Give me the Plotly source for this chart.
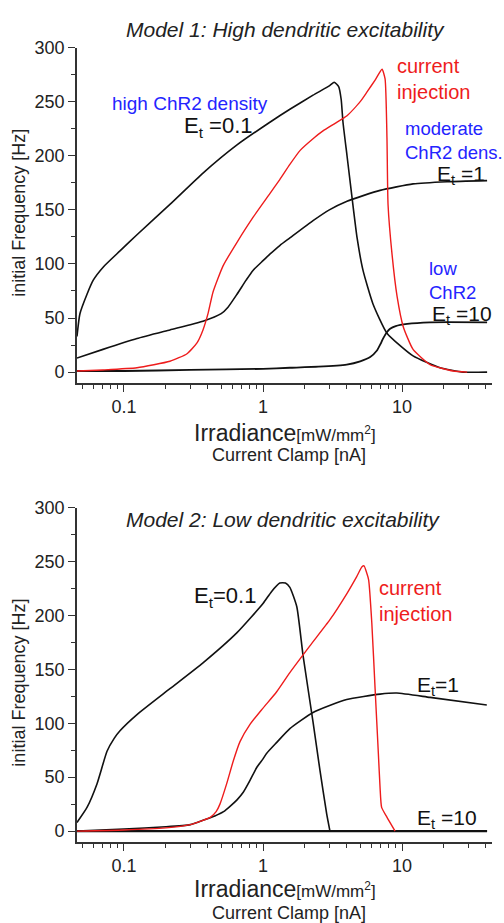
import plotly.graph_objects as go

# ---------------- data ----------------
# Model 1: High dendritic excitability
m1_et01_x = [0.0459, 0.0482, 0.0542, 0.0601, 0.0708, 0.0936, 0.124, 0.214, 0.370, 0.650, 1.12, 1.56, 2.29, 3.03, 3.25, 3.50, 3.65, 3.76, 4.02, 4.37, 4.75, 5.24, 6.18, 7.79, 12.0, 18.8, 27.5, 40.9]
m1_et01_y = [33, 54, 72, 85, 97, 112, 127, 155, 184, 210, 231, 243, 256, 265, 268, 264, 252, 231, 200, 161, 124, 94, 63, 36, 15, 4, 0, 0]

m1_cur_x = [0.0459, 0.0706, 0.124, 0.214, 0.284, 0.335, 0.370, 0.402, 0.437, 0.515, 0.650, 0.847, 1.12, 1.32, 1.56, 1.85, 2.30, 2.70, 3.30, 4.02, 5.00, 5.60, 6.40, 7.18, 7.55, 7.79, 7.93, 8.47, 9.21, 10.2, 12.0, 15.9, 23.3, 29.4]
m1_cur_y = [1, 2, 4, 10, 17, 27, 39, 54, 74, 98, 120, 143, 165, 178, 192, 205, 216, 223, 230, 237, 250, 259, 270, 280, 271, 216, 155, 109, 70, 42, 21, 7, 1, 0]

m1_et1_x = [0.0459, 0.0706, 0.124, 0.214, 0.370, 0.500, 0.560, 0.650, 0.756, 0.847, 1.00, 1.12, 1.32, 1.56, 2.29, 3.00, 4.02, 6.95, 12.0, 21.1, 40.9]
m1_et1_y = [13, 21, 31, 39, 47, 54, 60, 72, 85, 94, 103, 109, 117, 124, 140, 150, 158, 168, 174, 176, 177]

m1_et10_x = [0.0459, 0.10, 0.30, 1.0, 1.56, 2.5, 4.0, 5.0, 5.9, 6.6, 7.0, 7.3, 7.8, 8.2, 9.0, 10.9, 15.9, 40.9]
m1_et10_y = [1, 1, 2, 3, 4, 5, 7, 10, 14, 20, 26, 31, 37, 40, 42.5, 44.5, 46, 46]

# Model 2: Low dendritic excitability
m2_et01_x = [0.0459, 0.0542, 0.064, 0.0755, 0.0850, 0.0936, 0.124, 0.214, 0.370, 0.650, 1.00, 1.15, 1.32, 1.45, 1.56, 1.75, 1.94, 2.29, 2.57, 2.87, 3.03]
m2_et01_y = [8, 22, 44, 74, 86, 93, 108, 132, 156, 184, 211, 222, 230, 230, 226, 208, 163, 101, 56, 16, 0]

m2_cur_x = [0.0459, 0.10, 0.20, 0.30, 0.370, 0.420, 0.460, 0.490, 0.548, 0.611, 0.683, 0.806, 1.00, 1.25, 1.56, 2.18, 3.03, 4.00, 4.72, 5.15, 5.33, 5.55, 5.75, 6.06, 6.40, 6.76, 6.95, 7.13, 7.78, 8.91]
m2_cur_y = [0, 1, 3, 6, 10, 13, 18, 25, 44, 65, 83, 99, 114, 129, 147, 172, 196, 220, 236, 245, 246, 240, 233, 193, 132, 71, 40, 22, 13, 0]

m2_et1_x = [0.0459, 0.10, 0.20, 0.30, 0.370, 0.450, 0.520, 0.579, 0.650, 0.721, 0.806, 0.901, 1.00, 1.06, 1.25, 1.56, 2.29, 4.00, 6.95, 9.16, 15.9, 40.7]
m2_et1_y = [0, 2, 4, 6, 10, 14, 18, 23, 29, 36, 47, 59, 67, 72, 82, 95, 110, 122, 127, 128, 124, 117]

m2_et10_x = [0.0459, 40.9]
m2_et10_y = [0, 0]

x_tick_vals = [0.1, 1, 10]
x_tick_text = ["0.1", "1", "10"]
x_minor_vals = [0.05, 0.06, 0.07, 0.08, 0.09, 0.2, 0.3, 0.4, 0.5, 0.6, 0.7, 0.8, 0.9,
                2, 3, 4, 5, 6, 7, 8, 9, 20, 30, 40]
y_tick_vals = [0, 50, 100, 150, 200, 250, 300]

# ---------------- styling / layout ----------------
W, H = 504, 923
FONT = "Liberation Sans, Arial, Helvetica, sans-serif"
BLACK = "#111111"
RED = "#ee1c1c"
BLUE = "#2424ff"
AXC = "#333333"
TXT = "#222222"

def px_x(px):
    return px / W

def px_y(py):
    return 1 - py / H

fig = go.Figure()

def add_line(x, y, color, width, xa, ya):
    fig.add_trace(go.Scatter(x=x, y=y, mode="lines", xaxis=xa, yaxis=ya,
                             line=dict(color=color, width=width, shape="spline", smoothing=0.5),
                             hoverinfo="skip", showlegend=False))

add_line(m1_et10_x, m1_et10_y, BLACK, 1.8, "x", "y")
add_line(m1_et1_x, m1_et1_y, BLACK, 1.6, "x", "y")
add_line(m1_et01_x, m1_et01_y, BLACK, 1.6, "x", "y")
add_line(m1_cur_x, m1_cur_y, RED, 1.4, "x", "y")

add_line(m2_et10_x, m2_et10_y, BLACK, 2.4, "x2", "y2")
add_line(m2_et1_x, m2_et1_y, BLACK, 1.6, "x2", "y2")
add_line(m2_et01_x, m2_et01_y, BLACK, 1.6, "x2", "y2")
add_line(m2_cur_x, m2_cur_y, RED, 1.4, "x2", "y2")

xdom = [px_x(77), px_x(492)]
xaxis_common = dict(type="log", range=[-1.338, 1.647], domain=xdom,
                    tickmode="array", tickvals=x_tick_vals, ticktext=x_tick_text,
                    ticks="outside", ticklen=7, tickwidth=1.3, tickcolor=AXC,
                    showline=True, linecolor=AXC, linewidth=1.6,
                    showgrid=False, zeroline=False,
                    tickfont=dict(family=FONT, size=18, color=TXT),
                    minor=dict(tickmode="array", tickvals=x_minor_vals, ticks="outside",
                               ticklen=4, tickwidth=1.2, tickcolor=AXC, showgrid=False))
yaxis_common = dict(range=[-10, 300], tickmode="array", tickvals=y_tick_vals,
                    ticks="outside", ticklen=7, tickwidth=1.3, tickcolor=AXC,
                    showline=True, linecolor=AXC, linewidth=1.6,
                    showgrid=False, zeroline=False,
                    tickfont=dict(family=FONT, size=18, color=TXT),
                    minor=dict(dtick=25, ticks="outside", ticklen=4, tickwidth=1.2,
                               tickcolor=AXC, showgrid=False))

fig.update_layout(
    width=W, height=H, margin=dict(l=0, r=0, t=0, b=0),
    paper_bgcolor="white", plot_bgcolor="white",
    xaxis=dict(**xaxis_common, anchor="y"),
    yaxis=dict(**yaxis_common, anchor="x", domain=[px_y(377), px_y(38)]),
    xaxis2=dict(**xaxis_common, anchor="y2"),
    yaxis2=dict(**yaxis_common, anchor="x2", domain=[px_y(841), px_y(503)]),
)

def ann(text, px, py, size, color=BLACK, xanchor="left", align="left"):
    fig.add_annotation(text=text, x=px_x(px), y=px_y(py), xref="paper", yref="paper",
                       xanchor=xanchor, yanchor="middle", align=align, showarrow=False,
                       font=dict(family=FONT, size=size, color=color))

# panel titles
ann("<i>Model 1: High dendritic excitability</i>", 285, 20, 21, TXT, xanchor="center")
ann("<i>Model 2: Low dendritic excitability</i>", 283, 515, 21, TXT, xanchor="center")

# axis titles
for py_irr, py_cc, py_mid in [(428, 450, 205), (889, 913, 680)]:
    ann("Irradiance<span style='font-size:17px'>[mW/mm<sup>2</sup>]</span>", 285, py_irr, 23, TXT, xanchor="center")
    ann("Current Clamp [nA]", 289, py_cc, 18, TXT, xanchor="center")
    fig.add_annotation(text="initial Frequency [Hz]", x=px_x(19), y=px_y(py_mid), xref="paper", yref="paper",
                       xanchor="center", yanchor="middle", textangle=-90, showarrow=False,
                       font=dict(family=FONT, size=18, color=TXT))

# panel 1 labels
ann("high ChR2 density", 110, 95, 19, BLUE)
ann("E<sub>t</sub> =0.1", 182, 118, 22)
ann("current<br>injection", 395, 70, 20, RED)
ann("moderate<br>ChR2 dens.", 403, 132, 18.5, BLUE)
ann("E<sub>t</sub> =1", 435, 167, 21)
ann("low<br>ChR2", 427, 273, 18.5, BLUE)
ann("E<sub>t</sub> =10", 430, 308, 21)

# panel 2 labels
ann("E<sub>t</sub>=0.1", 192, 593, 22)
ann("current<br>injection", 377, 597, 20, RED)
ann("E<sub>t</sub>=1", 415, 683, 21)
ann("E<sub>t</sub> =10", 415, 818, 21)

fig.write_html("out.html")
